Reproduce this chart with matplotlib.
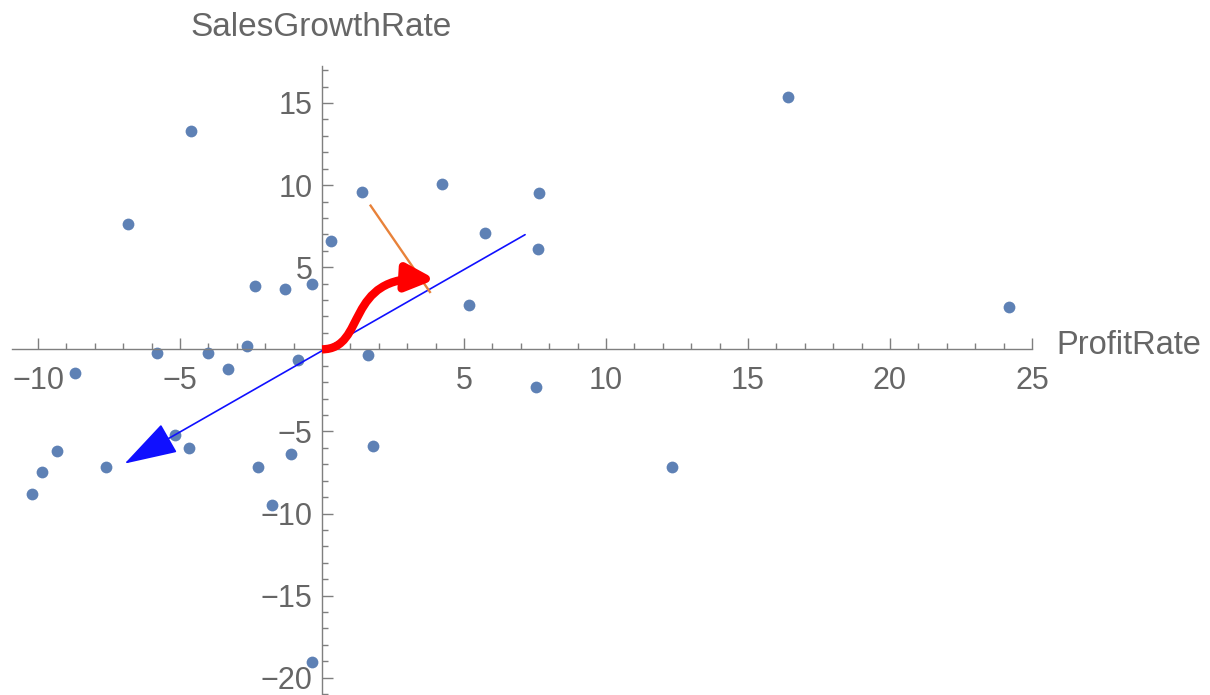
import matplotlib.pyplot as plt
from matplotlib.patches import FancyArrowPatch
from matplotlib.path import Path

plt.rcParams['font.family'] = ['Liberation Sans', 'DejaVu Sans']

# data
profit_rate = [16.4, 24.2, -4.6, -6.85, 1.42, 4.24, 7.64, 0.3, 5.75, 7.62,
               -2.35, -1.3, -0.37, 5.19, -5.8, -4.02, -2.63, -3.3, -0.83, 1.63,
               -8.7, 7.55, -5.16, -4.69, -9.35, -9.85, -10.23, -7.6, -2.24, -1.11,
               1.81, -1.77, -0.36, 12.32]
sales_growth = [15.38, 2.58, 13.29, 7.61, 9.55, 10.05, 9.54, 6.6, 7.1, 6.13,
                3.87, 3.7, 4.0, 2.7, -0.24, -0.2, 0.18, -1.17, -0.67, -0.37,
                -1.47, -2.3, -5.23, -6.04, -6.21, -7.5, -8.83, -7.19, -7.19, -6.39,
                -5.86, -9.46, -19.06, -7.18]

# principal direction arrow (start, end), projection line, rotation arrow
axis_arrow = [(7.15, 6.98), (-6.95, -6.96)]
proj_line_x = [1.71, 3.80]
proj_line_y = [8.75, 3.49]
rot_curve = [(0.0, 0.0), (1.6, 0.0), (0.75, 4.6), (4.0, 4.26)]

xticks = [-10, -5, 5, 10, 15, 20, 25]
xtick_labels = ["\u221210", "\u22125", "5", "10", "15", "20", "25"]
yticks = [-20, -15, -10, -5, 5, 10, 15]
ytick_labels = ["\u221220", "\u221215", "\u221210", "\u22125", "5", "10", "15"]
xminor = [v for v in range(-10, 26) if v % 5 != 0]
yminor = [v for v in range(-21, 18) if v % 5 != 0]

gray = "#7f7f7f"
txt = "#666666"

fig = plt.figure(figsize=(12.1, 6.95), dpi=100)
ax = fig.add_axes([0, 0, 1, 1])
ax.set_xlim(-11.34, 31.27)
ax.set_ylim(-21.05, 21.27)

ax.scatter(profit_rate, sales_growth, s=72, color="#5E81B5", zorder=2, linewidths=0)

blue = FancyArrowPatch(axis_arrow[0], axis_arrow[1],
                       arrowstyle="-|>,head_length=3.4,head_width=1.05",
                       mutation_scale=10, color="#1010ff", lw=1.2,
                       shrinkA=0, shrinkB=0, zorder=3)
ax.add_patch(blue)

ax.plot(proj_line_x, proj_line_y, color="#E8823A", lw=1.7, zorder=3)

path = Path(rot_curve, [Path.MOVETO, Path.CURVE4, Path.CURVE4, Path.CURVE4])
red = FancyArrowPatch(path=path, arrowstyle="-|>,head_length=1.7,head_width=0.8",
                      mutation_scale=10, color="red", lw=6, zorder=4,
                      shrinkA=0, shrinkB=0, joinstyle="round", capstyle="butt")
ax.add_patch(red)

# axes through the origin
for side in ["top", "right"]:
    ax.spines[side].set_visible(False)
ax.spines["left"].set_position(("data", 0))
ax.spines["bottom"].set_position(("data", 0))
ax.spines["left"].set_bounds(-21.1, 17.25)
ax.spines["bottom"].set_bounds(-10.92, 25)
for side in ["left", "bottom"]:
    ax.spines[side].set_color(gray)
    ax.spines[side].set_linewidth(1.0)

ax.set_xticks(xticks)
ax.set_xticklabels(xtick_labels)
ax.set_yticks(yticks)
ax.set_yticklabels(ytick_labels)
ax.set_xticks(xminor, minor=True)
ax.set_yticks(yminor, minor=True)
ax.tick_params(which="both", direction="in", color=gray, width=1.0,
               labelcolor=txt, labelsize=22)
ax.tick_params(which="major", length=8)
ax.tick_params(which="minor", length=4.3)
ax.tick_params(axis="x", pad=12)
ax.tick_params(axis="y", pad=7)

ax.text(25.85, 0.25, "ProfitRate", fontsize=23.5, color=txt, va="center", ha="left")
ax.text(-4.65, 19.05, "SalesGrowthRate", fontsize=24, color=txt, va="baseline", ha="left")

fig.savefig("out.png", dpi=100)
